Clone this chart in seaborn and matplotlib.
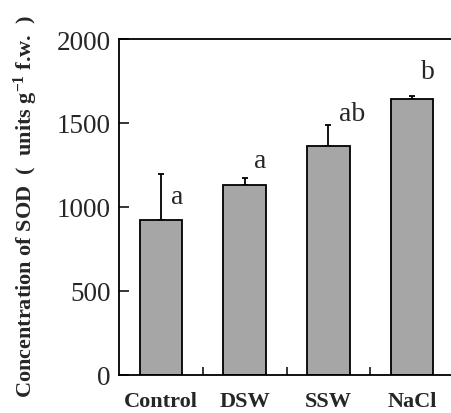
import matplotlib
matplotlib.use("Agg")
import matplotlib.pyplot as plt
import seaborn as sns
import numpy as np
import pandas as pd

categories = ["Control", "DSW", "SSW", "NaCl"]
values = [923, 1128, 1365, 1645]
errors = [275, 46, 123, 16]
letters = ["a", "a", "ab", "b"]
letter_y = [1060, 1275, 1555, 1805]
yticks = [0, 500, 1000, 1500, 2000]

sns.set_style("ticks")
plt.rcParams["font.family"] = ["Liberation Serif", "DejaVu Serif"]
plt.rcParams["mathtext.fontset"] = "custom"
plt.rcParams["mathtext.rm"] = "Liberation Serif:bold"
plt.rcParams["mathtext.bf"] = "Liberation Serif:bold"
plt.rcParams["mathtext.it"] = "Liberation Serif:bold"

fig = plt.figure(figsize=(4.52, 4.14), dpi=100)
ax = fig.add_axes([119 / 452, 1 - 375.7 / 414, 335 / 452, 335.7 / 414])

df = pd.DataFrame({"cat": categories, "val": values})
sns.barplot(data=df, x="cat", y="val", color="#A6A6A6", saturation=1,
            width=0.51, edgecolor="black", linewidth=1.3, errorbar=None, ax=ax)
x = np.arange(len(categories))
ax.errorbar(x, values, yerr=[np.zeros(len(values)), errors], fmt="none",
            ecolor="black", elinewidth=1.3, capsize=2.5, capthick=1.3, zorder=1)
for bar in ax.patches:
    bar.set_zorder(2)

for xi, lab, ly in zip(x, letters, letter_y):
    off = 0.28 if len(lab) > 1 else 0.19
    ax.text(xi + off, ly, lab, ha="center", va="center", fontsize=20)

ax.set_xlim(-0.5, 3.5)
ax.set_ylim(0, 2000)
ax.set_yticks(yticks)
ax.set_yticklabels([str(t) for t in yticks], fontsize=19.5)
ax.set_xticks(x)
ax.set_xticklabels(categories, fontsize=16, fontweight="bold")
ax.set_xticks([0.5, 1.5, 2.5], minor=True)
ax.tick_params(axis="x", which="major", length=0, pad=12)
ax.tick_params(axis="x", which="minor", direction="in", length=6, width=1.3)
ax.tick_params(axis="y", direction="in", length=7, width=1.3, pad=6)
ax.set_xlabel("")
ax.set_ylabel("Concentration of SOD\u2002(\u2002units g$^{-1}$ f.w.\u2002)", fontsize=16,
              fontweight="bold")
ax.yaxis.set_label_coords(-0.235, 0.505)

for s in ["left", "bottom", "top"]:
    ax.spines[s].set_linewidth(1.3)
    ax.spines[s].set_color("black")
ax.spines["right"].set_visible(False)

fig.savefig("out.png", dpi=100)
